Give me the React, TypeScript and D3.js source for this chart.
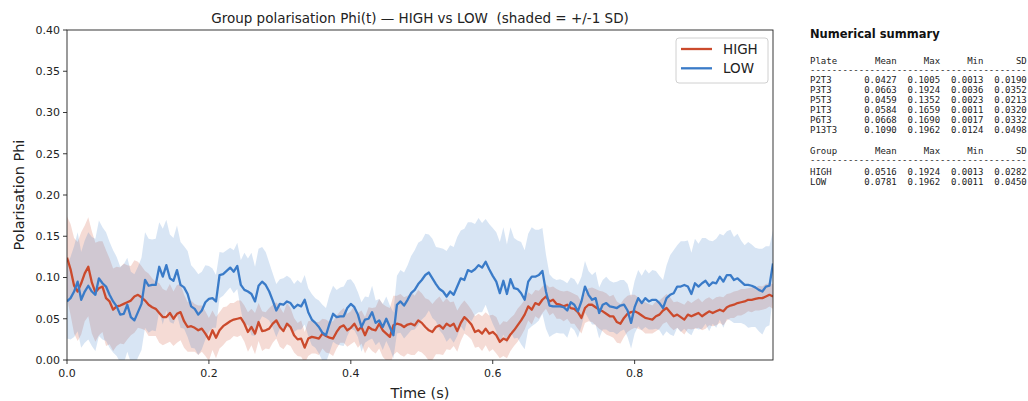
import React from "react";
import * as d3 from "d3";

// ---- data ----
const DT = 0.005; // sampling period (s)

const highMean = [
  0.124,0.110,0.090,0.083,0.093,0.105,0.113,0.094,0.082,0.087,
  0.089,0.075,0.071,0.061,0.065,0.066,0.068,0.070,0.072,0.077,
  0.079,0.076,0.072,0.067,0.064,0.062,0.057,0.052,0.052,0.057,
  0.050,0.056,0.058,0.047,0.040,0.041,0.039,0.036,0.038,0.032,
  0.025,0.036,0.027,0.036,0.041,0.044,0.047,0.049,0.050,0.051,
  0.044,0.034,0.040,0.032,0.046,0.035,0.036,0.038,0.044,0.048,
  0.040,0.035,0.044,0.040,0.030,0.025,0.026,0.015,0.026,0.028,
  0.027,0.026,0.032,0.029,0.027,0.026,0.034,0.040,0.042,0.036,
  0.039,0.044,0.036,0.040,0.030,0.040,0.037,0.036,0.044,0.036,
  0.032,0.028,0.042,0.044,0.043,0.040,0.043,0.044,0.042,0.048,
  0.045,0.040,0.036,0.034,0.040,0.042,0.038,0.044,0.041,0.044,
  0.035,0.045,0.052,0.048,0.043,0.034,0.036,0.032,0.038,0.032,
  0.034,0.030,0.022,0.026,0.024,0.031,0.036,0.042,0.048,0.055,
  0.065,0.061,0.069,0.067,0.073,0.077,0.071,0.073,0.068,0.067,
  0.065,0.067,0.063,0.062,0.058,0.051,0.063,0.067,0.067,0.064,
  0.061,0.059,0.056,0.053,0.053,0.046,0.044,0.051,0.056,0.058,
  0.059,0.057,0.054,0.051,0.050,0.049,0.053,0.055,0.060,0.063,
  0.058,0.053,0.055,0.052,0.049,0.055,0.053,0.055,0.057,0.053,
  0.056,0.059,0.057,0.059,0.061,0.059,0.064,0.066,0.067,0.069,
  0.070,0.071,0.073,0.073,0.074,0.075,0.075,0.077,0.079,0.077,
];

const highSd = [
  0.050,0.055,0.058,0.060,0.062,0.058,0.060,0.062,0.060,0.057,
  0.055,0.058,0.052,0.050,0.048,0.046,0.049,0.045,0.042,0.044,
  0.040,0.038,0.036,0.038,0.035,0.033,0.036,0.034,0.032,0.035,
  0.033,0.035,0.034,0.032,0.030,0.031,0.029,0.030,0.028,0.027,
  0.026,0.024,0.025,0.022,0.023,0.021,0.022,0.020,0.022,0.021,
  0.022,0.024,0.022,0.025,0.023,0.024,0.022,0.025,0.023,0.022,
  0.024,0.022,0.025,0.023,0.021,0.020,0.022,0.019,0.021,0.020,
  0.019,0.020,0.018,0.020,0.019,0.021,0.020,0.019,0.021,0.020,
  0.020,0.022,0.021,0.020,0.022,0.024,0.026,0.028,0.030,0.032,
  0.033,0.035,0.036,0.034,0.037,0.036,0.035,0.038,0.036,0.037,
  0.036,0.035,0.037,0.034,0.033,0.035,0.032,0.031,0.029,0.027,
  0.025,0.022,0.020,0.019,0.018,0.019,0.020,0.021,0.020,0.022,
  0.021,0.022,0.020,0.021,0.022,0.020,0.019,0.020,0.019,0.018,
  0.017,0.018,0.016,0.017,0.016,0.015,0.017,0.016,0.018,0.017,
  0.018,0.017,0.019,0.018,0.020,0.019,0.018,0.020,0.021,0.022,
  0.023,0.024,0.025,0.024,0.026,0.025,0.024,0.023,0.022,0.021,
  0.020,0.019,0.018,0.019,0.018,0.017,0.018,0.017,0.016,0.017,
  0.018,0.017,0.016,0.017,0.018,0.017,0.016,0.017,0.018,0.017,
  0.018,0.017,0.016,0.017,0.016,0.017,0.016,0.015,0.016,0.015,
  0.016,0.015,0.014,0.015,0.014,0.015,0.014,0.015,0.014,0.015,
];

const lowMean = [
  0.071,0.075,0.083,0.095,0.073,0.083,0.090,0.083,0.079,0.099,
  0.093,0.089,0.079,0.071,0.065,0.055,0.056,0.067,0.052,0.048,
  0.058,0.068,0.097,0.090,0.091,0.091,0.113,0.101,0.115,0.099,
  0.096,0.109,0.091,0.088,0.080,0.065,0.062,0.055,0.060,0.070,
  0.074,0.075,0.071,0.103,0.104,0.108,0.112,0.107,0.114,0.091,
  0.085,0.083,0.080,0.071,0.090,0.095,0.091,0.083,0.072,0.060,
  0.068,0.067,0.071,0.069,0.063,0.067,0.065,0.073,0.058,0.049,
  0.045,0.040,0.033,0.030,0.044,0.056,0.052,0.053,0.053,0.063,
  0.068,0.064,0.055,0.040,0.049,0.050,0.058,0.045,0.048,0.040,
  0.050,0.040,0.030,0.067,0.071,0.066,0.073,0.081,0.085,0.092,
  0.097,0.103,0.106,0.099,0.092,0.086,0.083,0.077,0.083,0.079,
  0.089,0.099,0.097,0.109,0.107,0.110,0.115,0.112,0.119,0.110,
  0.102,0.095,0.081,0.096,0.080,0.098,0.087,0.086,0.081,0.073,
  0.095,0.101,0.101,0.103,0.108,0.083,0.066,0.065,0.065,0.065,
  0.064,0.060,0.070,0.067,0.059,0.071,0.089,0.079,0.073,0.075,
  0.057,0.067,0.069,0.065,0.064,0.063,0.066,0.067,0.060,0.045,
  0.064,0.075,0.069,0.075,0.071,0.073,0.073,0.069,0.063,0.075,
  0.079,0.081,0.089,0.089,0.091,0.089,0.080,0.093,0.089,0.093,
  0.096,0.090,0.094,0.093,0.101,0.095,0.103,0.103,0.097,0.099,
  0.095,0.091,0.091,0.090,0.088,0.085,0.083,0.089,0.090,0.117,
];

const lowSd = [
  0.045,0.050,0.055,0.060,0.058,0.062,0.065,0.066,0.068,0.070,
  0.068,0.066,0.064,0.062,0.060,0.058,0.060,0.057,0.055,0.056,
  0.055,0.056,0.058,0.057,0.055,0.056,0.054,0.058,0.055,0.053,
  0.052,0.054,0.052,0.050,0.052,0.050,0.048,0.049,0.047,0.045,
  0.040,0.036,0.032,0.028,0.026,0.025,0.024,0.026,0.028,0.030,
  0.045,0.040,0.050,0.042,0.045,0.042,0.040,0.035,0.033,0.032,
  0.030,0.032,0.031,0.030,0.029,0.030,0.028,0.030,0.029,0.031,
  0.030,0.032,0.034,0.033,0.035,0.034,0.033,0.035,0.036,0.034,
  0.030,0.028,0.027,0.030,0.028,0.026,0.032,0.027,0.026,0.028,
  0.027,0.026,0.028,0.035,0.038,0.040,0.042,0.045,0.048,0.050,
  0.048,0.050,0.046,0.048,0.045,0.050,0.052,0.055,0.056,0.058,
  0.060,0.058,0.062,0.058,0.060,0.055,0.057,0.054,0.052,0.055,
  0.058,0.060,0.062,0.065,0.060,0.063,0.061,0.059,0.062,0.060,
  0.058,0.060,0.057,0.055,0.052,0.045,0.038,0.034,0.032,0.033,
  0.032,0.033,0.030,0.031,0.032,0.030,0.031,0.029,0.030,0.032,
  0.031,0.030,0.032,0.031,0.030,0.032,0.031,0.030,0.032,0.031,
  0.032,0.034,0.033,0.035,0.034,0.036,0.035,0.033,0.034,0.040,
  0.048,0.052,0.050,0.055,0.053,0.056,0.050,0.054,0.052,0.055,
  0.052,0.055,0.050,0.054,0.052,0.056,0.053,0.055,0.052,0.054,
  0.050,0.048,0.052,0.050,0.048,0.050,0.052,0.049,0.048,0.040,
];

const yTicks = [0, 0.05, 0.1, 0.15, 0.2, 0.25, 0.3, 0.35, 0.4];
const xTicks = [0, 0.2, 0.4, 0.6, 0.8];

const groups = ["HIGH", "LOW"];
const groupColors = ["#cb4a2c", "#3a7bc8"];

const plateNames = ["P2T3", "P3T3", "P5T3", "P1T3", "P6T3", "P13T3"];
const plateMean = ["0.0427", "0.0663", "0.0459", "0.0584", "0.0668", "0.1090"];
const plateMax = ["0.1005", "0.1924", "0.1352", "0.1659", "0.1690", "0.1962"];
const plateMin = ["0.0013", "0.0036", "0.0023", "0.0011", "0.0017", "0.0124"];
const plateSd = ["0.0190", "0.0352", "0.0213", "0.0320", "0.0332", "0.0498"];

const groupMean = ["0.0516", "0.0781"];
const groupMax = ["0.1924", "0.1962"];
const groupMin = ["0.0013", "0.0011"];
const groupSd = ["0.0282", "0.0450"];

const tableHeader = ["Mean", "Max", "Min", "SD"];

// ---- layout ----
const W = 1028;
const H = 401;
const L = 67, R = 773, T = 30, B = 360;
const FONT = "DejaVu Sans, Liberation Sans, sans-serif";
const MONO = "DejaVu Sans Mono, Liberation Mono, monospace";

export default function App() {
  const times = highMean.map((_, i) => i * DT);
  const x = d3.scaleLinear().domain([0, times[times.length - 1]]).range([L, R]);
  const y = d3.scaleLinear().domain([0, 0.4]).range([B, T]);

  const series = [
    { name: groups[0], mean: highMean, sd: highSd, color: groupColors[0] },
    { name: groups[1], mean: lowMean, sd: lowSd, color: groupColors[1] },
  ];

  const area = (m: number[], s: number[]) =>
    d3
      .area<number>()
      .x((_, i) => x(times[i]))
      .y0((_, i) => y(m[i] - s[i]))
      .y1((_, i) => y(m[i] + s[i]))(m) || "";
  const line = (m: number[]) =>
    d3
      .line<number>()
      .x((_, i) => x(times[i]))
      .y((d) => y(d))(m) || "";

  // table geometry
  const tx = 810;
  const cw = 5.42; // mono char width at 9px
  const colEnd = [16, 24, 32, 40].map((c) => tx + c * cw);
  const plateRowY = [80, 90, 100, 110, 120, 130];
  const groupRowY = [171.7, 181.7];

  return (
    <svg
      width={W}
      height={H}
      style={{ position: "absolute", left: 0, top: 0, background: "#fff" }}
    >
      <defs>
        <clipPath id="plotclip">
          <rect x={L} y={T} width={R - L} height={B - T} />
        </clipPath>
      </defs>
      <rect x={0} y={0} width={W} height={H} fill="#fff" />

      <g clipPath="url(#plotclip)">
        {series.map((s) => (
          <path key={s.name + "band"} d={area(s.mean, s.sd)} fill={s.color} fillOpacity={0.2} stroke="none" />
        ))}
        {series.map((s) => (
          <path key={s.name + "line"} d={line(s.mean)} fill="none" stroke={s.color} strokeWidth={2.3} strokeLinejoin="round" />
        ))}
      </g>

      {/* frame */}
      <rect x={L} y={T} width={R - L} height={B - T} fill="none" stroke="#222" strokeWidth={0.9} />

      {/* y ticks */}
      {yTicks.map((t) => (
        <g key={"y" + t}>
          <line x1={L - 4} x2={L} y1={y(t)} y2={y(t)} stroke="#222" strokeWidth={0.9} />
          <text x={L - 7} y={y(t)} dy="0.35em" textAnchor="end" fontSize={11} fontFamily={FONT} fill="#222">
            {t.toFixed(2)}
          </text>
        </g>
      ))}
      {/* x ticks */}
      {xTicks.map((t) => (
        <g key={"x" + t}>
          <line x1={x(t)} x2={x(t)} y1={B} y2={B + 4} stroke="#222" strokeWidth={0.9} />
          <text x={x(t)} y={B + 17} textAnchor="middle" fontSize={11} fontFamily={FONT} fill="#222">
            {t.toFixed(1)}
          </text>
        </g>
      ))}

      {/* axis labels */}
      <text x={(L + R) / 2} y={398} textAnchor="middle" fontSize={14.5} fontFamily={FONT} fill="#222">
        Time (s)
      </text>
      <text
        transform={`translate(24,${(T + B) / 2}) rotate(-90)`}
        textAnchor="middle"
        fontSize={14.5}
        fontFamily={FONT}
        fill="#222"
      >
        Polarisation Phi
      </text>

      {/* title */}
      <text
        x={(L + R) / 2}
        y={23}
        textAnchor="middle"
        fontSize={13.5}
        fontFamily={FONT}
        fill="#222"
        style={{ whiteSpace: "pre" }}
      >
        {"Group polarisation Phi(t) — HIGH vs LOW  (shaded = +/-1 SD)"}
      </text>

      {/* legend */}
      <rect x={676} y={38} width={92} height={45} rx={3} fill="#fff" fillOpacity={0.85} stroke="#d0d0d0" strokeWidth={1} />
      {series.map((s, i) => (
        <g key={s.name + "leg"}>
          <line x1={681} x2={712} y1={49 + i * 19.3} y2={49 + i * 19.3} stroke={s.color} strokeWidth={2.3} />
          <text x={723} y={49 + i * 19.3} dy="0.36em" fontSize={13.5} fontFamily={FONT} fill="#222">
            {s.name}
          </text>
        </g>
      ))}

      {/* numerical summary */}
      <text x={tx} y={38} fontSize={11.5} fontWeight="bold" fontFamily={FONT} fill="#111">
        Numerical summary
      </text>
      <g fontFamily={MONO} fontSize={9} fill="#222">
        <text x={tx} y={60.7} dy="0.35em">Plate</text>
        {tableHeader.map((h, j) => (
          <text key={"ph" + h} x={colEnd[j]} y={60.7} dy="0.35em" textAnchor="end">{h}</text>
        ))}
        <text x={tx} y={70} dy="0.35em">{"-".repeat(40)}</text>
        {plateNames.map((n, i) => (
          <g key={n}>
            <text x={tx} y={plateRowY[i]} dy="0.35em">{n}</text>
            {[plateMean[i], plateMax[i], plateMin[i], plateSd[i]].map((v, j) => (
              <text key={j} x={colEnd[j]} y={plateRowY[i]} dy="0.35em" textAnchor="end">{v}</text>
            ))}
          </g>
        ))}
        <text x={tx} y={150.7} dy="0.35em">Group</text>
        {tableHeader.map((h, j) => (
          <text key={"gh" + h} x={colEnd[j]} y={150.7} dy="0.35em" textAnchor="end">{h}</text>
        ))}
        <text x={tx} y={160} dy="0.35em">{"-".repeat(40)}</text>
        {groups.map((n, i) => (
          <g key={"g" + n}>
            <text x={tx} y={groupRowY[i]} dy="0.35em">{n}</text>
            {[groupMean[i], groupMax[i], groupMin[i], groupSd[i]].map((v, j) => (
              <text key={j} x={colEnd[j]} y={groupRowY[i]} dy="0.35em" textAnchor="end">{v}</text>
            ))}
          </g>
        ))}
      </g>
    </svg>
  );
}
